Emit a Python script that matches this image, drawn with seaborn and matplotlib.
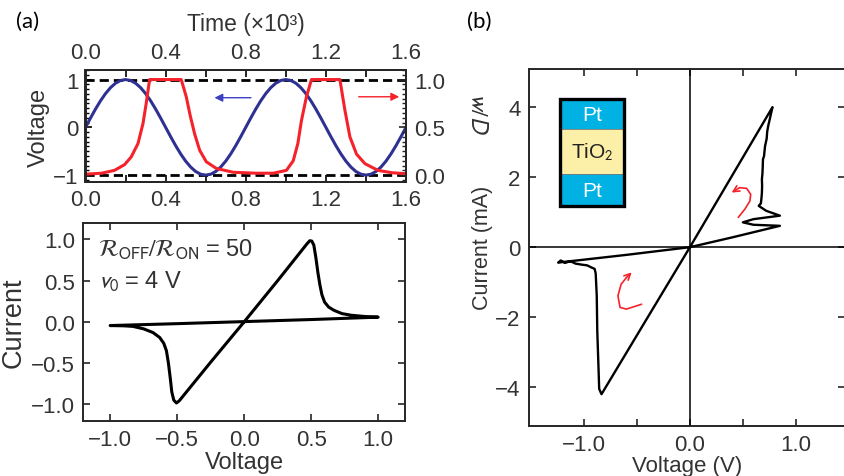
import numpy as np
import pandas as pd
import matplotlib
matplotlib.use("Agg")
import matplotlib.pyplot as plt
import seaborn as sns
from matplotlib.ticker import MultipleLocator, FixedLocator
from matplotlib.patches import Rectangle

# ---------------- data ----------------
# panel (a) top: applied voltage (left axis) and state w/D (right axis) vs time (x10^3)
time_v = np.round(np.arange(65) * 0.025, 3)
voltage = [0, .195, .383, .556, .707, .831, .924, .981, 1, .981, .924, .831, .707, .556, .383, .195,
           0, -.195, -.383, -.556, -.707, -.831, -.924, -.981, -1, -.981, -.924, -.831, -.707, -.556, -.383, -.195,
           0, .195, .383, .556, .707, .831, .924, .981, 1, .981, .924, .831, .707, .556, .383, .195,
           0, -.195, -.383, -.556, -.707, -.831, -.924, -.981, -1, -.981, -.924, -.831, -.707, -.556, -.383, -.195, 0]
time_w = [0.0, 0.08, 0.145, 0.195, 0.228, 0.262, 0.287, 0.303, 0.32, 0.478, 0.503, 0.523, 0.545, 0.57,
          0.603, 0.653, 0.737, 0.85, 0.937, 1.003, 1.037, 1.06, 1.078, 1.103, 1.128, 1.27, 1.295, 1.32,
          1.353, 1.395, 1.46, 1.53, 1.6]
wd = [0.01, 0.02, 0.05, 0.11, 0.19, 0.33, 0.54, 0.75, 1.0, 1.0, 0.82, 0.62, 0.43, 0.26,
      0.14, 0.07, 0.03, 0.02, 0.02, 0.05, 0.15, 0.33, 0.57, 0.82, 1.0, 1.0, 0.68, 0.4,
      0.22, 0.12, 0.05, 0.025, 0.015]

# panel (a) bottom: simulated I-V loop
iv_a_v = [0.0, 0.25, 0.47, 0.49, 0.505, 0.52, 0.535, 0.55, 0.565, 0.58, 0.60, 0.63, 0.67, 0.73, 0.80, 0.90, 1.0,
          0.5, 0.0, -0.5, -1.0, -0.9, -0.83, -0.75, -0.68, -0.63, -0.60, -0.58, -0.565, -0.55, -0.54,
          -0.525, -0.505, -0.485, -0.25, 0.0]
iv_a_i = [0.0, 0.5, 0.95, 0.985, 0.98, 0.93, 0.78, 0.60, 0.45, 0.33, 0.24, 0.18, 0.14, 0.10, 0.08, 0.065, 0.057,
          0.028, 0.003, -0.022, -0.045, -0.048, -0.055, -0.085, -0.13, -0.19, -0.26, -0.35, -0.5, -0.7, -0.85,
          -0.95, -0.985, -0.96, -0.49, 0.0]

# panel (b): measured I-V loop (V, mA)
iv_b_v = [0.0, 0.78, 0.765, 0.75, 0.74, 0.73, 0.725, 0.71, 0.705, 0.70, 0.69, 0.688, 0.685, 0.68, 0.682, 0.68,
          0.675, 0.67, 0.65, 0.72, 0.85, 0.6, 0.5, 0.6, 0.85, 0.4, 0.0, -0.6, -1.245, -1.22, -1.18, -1.13,
          -1.08, -1.02, -0.97, -0.93, -0.90, -0.89, -0.88, -0.875, -0.865, -0.857, -0.835, -0.4, 0.0]
iv_b_i = [0.0, 4.0, 3.8, 3.6, 3.47, 3.3, 3.1, 2.89, 2.75, 2.6, 2.51, 2.3, 2.1, 1.94, 1.75, 1.55,
          1.37, 1.25, 1.18, 1.04, 0.9, 0.8, 0.71, 0.64, 0.61, 0.28, 0.0, -0.22, -0.44, -0.38, -0.45, -0.40,
          -0.47, -0.50, -0.52, -0.58, -0.62, -0.75, -1.39, -2.4, -3.3, -4.05, -4.2, -2.01, 0.0]

time_ticks = [0.0, 0.4, 0.8, 1.2, 1.6]
layers = ["Pt", "TiO$_2$", "Pt"]

# hand-drawn red loop-direction arrows in panel (b)
hook_up_v = [0.457, 0.52, 0.567, 0.574, 0.536, 0.47, 0.394]
hook_up_i = [0.85, 1.09, 1.32, 1.51, 1.68, 1.70, 1.56]
hook_lo_v = [-0.457, -0.60, -0.66, -0.68, -0.65, -0.60, -0.55]
hook_lo_i = [-1.63, -1.77, -1.72, -1.39, -1.06, -0.87, -0.72]

# ---------------- style ----------------
sns.set_style("ticks")
plt.rcParams['font.family'] = ['Liberation Sans', 'DejaVu Sans']
plt.rcParams['mathtext.fontset'] = 'stixsans'
plt.rcParams['axes.linewidth'] = 1.4
TXT = '#333333'
BLUE = '#2e3192'
RED = '#f5222b'

fig = plt.figure(figsize=(8.45, 4.77), dpi=100)
W, H = 845, 477


def axes_px(l, t, r, b):
    return fig.add_axes([l / W, 1 - b / H, (r - l) / W, (b - t) / H])


# ---------------- panel (a) top ----------------
ax1 = axes_px(85.5, 71, 406, 183.3)
sns.lineplot(x=time_v, y=voltage, ax=ax1, color=BLUE, lw=2.2, estimator=None, sort=False)
for yv in (1, -1):
    ax1.axhline(yv, color='black', lw=2.0, dashes=(3.3, 1.8), zorder=1)
ax1.set_xlim(0, 1.6)
ax1.set_ylim(-1.15, 1.2)
ax1.set_xticks(time_ticks)
ax1.xaxis.set_minor_locator(MultipleLocator(0.2))
ax1.xaxis.set_major_formatter('{x:.1f}')
ax1.set_yticks([-1, 0, 1])
ax1.yaxis.set_minor_locator(MultipleLocator(0.1))
ax1.tick_params(which='both', direction='in', top=True, labeltop=True, bottom=True, labelbottom=True,
                left=True, right=False, colors='black', labelcolor=TXT, labelsize=16, pad=5)
ax1.tick_params(which='major', length=5, width=1.2)
ax1.tick_params(axis='y', which='minor', length=3, width=1)
ax1.tick_params(axis='x', which='minor', length=5, width=1.2)
ax1.set_xlabel('Time (×10³)', fontsize=16.5, color=TXT, labelpad=9)
ax1.xaxis.set_label_position('top')
ax1.set_ylabel('Voltage', fontsize=17, color=TXT, labelpad=2)
ax1.annotate('', xy=(0.63, 0.62), xytext=(0.84, 0.62),
             arrowprops=dict(arrowstyle='-|>', color='#3b3fc0', lw=1.0, mutation_scale=12))

ax2 = ax1.twinx()
sns.lineplot(x=time_w, y=wd, ax=ax2, color=RED, lw=2.2, estimator=None, sort=False)
ax2.set_ylim((-1.15 + 1) / 2, (1.2 + 1) / 2)
ax2.set_yticks([0.0, 0.5, 1.0])
ax2.yaxis.set_minor_locator(MultipleLocator(0.05))
ax2.yaxis.set_major_formatter('{x:.1f}')
ax2.tick_params(which='both', direction='in', right=True, left=False, labelcolor=TXT, labelsize=16, pad=6)
ax2.tick_params(which='major', length=5, width=1.2)
ax2.tick_params(which='minor', length=3, width=1)
ax2.set_ylabel('')
ax2.set_xlabel('')
ax2.annotate('', xy=(1.58, (0.64 + 1) / 2), xytext=(1.35, (0.64 + 1) / 2),
             arrowprops=dict(arrowstyle='-|>', color=RED, lw=1.0, mutation_scale=12))
fig.text(477 / W, 1 - 113 / H, '$w/D$', rotation=270, ha='center', va='center', fontsize=17, color=TXT)

# ---------------- panel (a) bottom ----------------
ax3 = axes_px(83.3, 224, 405, 421.7)
sns.lineplot(x=iv_a_v, y=iv_a_i, ax=ax3, color='black', lw=2.2, estimator=None, sort=False)
ax3.set_xlim(-1.2, 1.2)
ax3.set_ylim(-1.2, 1.2)
ax3.xaxis.set_major_locator(MultipleLocator(0.5))
ax3.yaxis.set_major_locator(MultipleLocator(0.5))
ax3.xaxis.set_major_formatter('{x:.1f}')
ax3.yaxis.set_major_formatter('{x:.1f}')
ax3.tick_params(direction='in', top=True, right=True, length=5, width=1.2, labelcolor=TXT, labelsize=16, pad=6)
ax3.set_xlabel('Voltage', fontsize=17, color=TXT, labelpad=1)
ax3.set_ylabel('Current', fontsize=19.5, color=TXT, labelpad=3)
ax3.text(-1.09, 0.88, r'$\mathcal{R}_{\mathrm{OFF}}/\mathcal{R}_{\mathrm{ON}}$ = 50', fontsize=17,
         color=TXT, ha='left', va='center')
ax3.text(-1.09, 0.5, r'$v_0$ = 4 V', fontsize=17, color=TXT, ha='left', va='center')

# ---------------- panel (b) ----------------
axb = axes_px(529, 70, 845, 426.7)
axb.axvline(0, color='black', lw=1.1, zorder=1)
axb.axhline(0, color='black', lw=1.1, zorder=1)
sns.lineplot(x=iv_b_v, y=iv_b_i, ax=axb, color='black', lw=1.7, estimator=None, sort=False)
axb.set_xlim(-1.52, 1.465)
axb.set_ylim(-5.1, 5.09)
axb.set_xticks([-1.0, 0.0, 1.0])
axb.xaxis.set_minor_locator(FixedLocator([-0.5, 0.5]))
axb.xaxis.set_major_formatter('{x:.1f}')
axb.set_yticks([-4, -2, 0, 2, 4])
axb.yaxis.set_major_formatter('{x:.0f}')
axb.tick_params(which='both', direction='in', top=True, right=True, length=5, width=1.2,
                labelcolor=TXT, labelsize=16)
axb.tick_params(axis='x', pad=6)
axb.tick_params(axis='y', pad=6)
axb.spines['right'].set_visible(False)
axb.set_xlabel('Voltage (V)', fontsize=16, color=TXT, labelpad=0)
axb.set_ylabel('Current (mA)', fontsize=15.5, color=TXT, labelpad=2)

# device stack inset
x0, x1 = -1.23, -0.62
bounds = [(3.37, 4.23), (2.09, 3.37), (1.17, 2.09)]
fills = ['#00b2e3', '#fcf0a8', '#00b2e3']
tcol = ['white', '#222222', 'white']
for (y0, y1), fc, lab, tc in zip(bounds, fills, layers, tcol):
    axb.add_patch(Rectangle((x0, y0), x1 - x0, y1 - y0, facecolor=fc, edgecolor='none', zorder=3))
    axb.text((x0 + x1) / 2, (y0 + y1) / 2, lab, ha='center', va='center', fontsize=15, color=tc, zorder=4)
for yb in (2.09, 3.37):
    axb.plot([x0, x1], [yb, yb], color='#777777', lw=0.6, zorder=3)
axb.add_patch(Rectangle((x0, 1.17), x1 - x0, 4.23 - 1.17, facecolor='none', edgecolor='black', lw=2.4, zorder=5))

# red hand-drawn arrows
for hv, hi in ((hook_up_v, hook_up_i), (hook_lo_v, hook_lo_i)):
    axb.plot(hv[:-1], hi[:-1], color=RED, lw=1.2, solid_capstyle='round', zorder=6)
    axb.annotate('', xy=(hv[-1], hi[-1]), xytext=(hv[-2], hi[-2]),
                 arrowprops=dict(arrowstyle='->', color=RED, lw=1.2, mutation_scale=11,
                                 shrinkA=0, shrinkB=0), zorder=6)

# panel labels
fig.text(28 / W, 1 - 22 / H, '(a)', fontsize=16, family='Lato', ha='center', va='center', color='black')
fig.text(479 / W, 1 - 22 / H, '(b)', fontsize=16, family='Lato', ha='center', va='center', color='black')

fig.savefig('out.png', dpi=100)
